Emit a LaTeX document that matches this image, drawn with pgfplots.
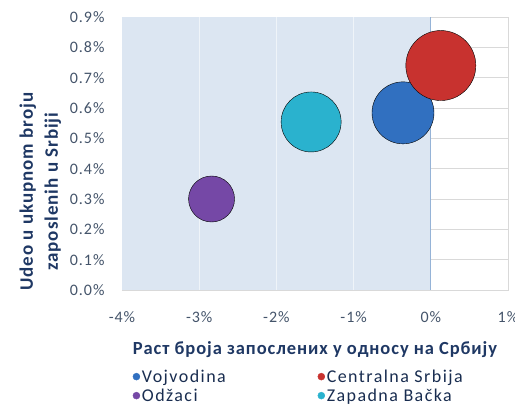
\documentclass[border=0pt]{standalone}
\usepackage{pgfplots}
\pgfplotsset{compat=1.18}
\usepackage{fontspec}
\setmainfont{Carlito}

\definecolor{voj}{HTML}{3170C0}
\definecolor{csr}{HTML}{C8322F}
\definecolor{odz}{HTML}{7548A6}
\definecolor{zba}{HTML}{2AB2CE}
\definecolor{bgblue}{HTML}{DCE6F2}
\definecolor{navy}{HTML}{1F3864}
\definecolor{ticktext}{HTML}{44546A}
\definecolor{gridgray}{HTML}{D9D9D9}
\definecolor{zeroline}{HTML}{95B3D7}

\begin{document}
\begin{tikzpicture}
\useasboundingbox (0,0) rectangle (515pt,409pt);
\begin{axis}[
  at={(122pt,119pt)}, anchor=south west,
  scale only axis,
  width=386pt, height=273pt,
  xmin=-4, xmax=1, ymin=0, ymax=0.9,
  xtick={-4,-3,-2,-1,0,1},
  xticklabels={-4\%,-3\%,-2\%,-1\%,0\%,1\%},
  ytick={0,0.1,0.2,0.3,0.4,0.5,0.6,0.7,0.8,0.9},
  yticklabels={0.0\%,0.1\%,0.2\%,0.3\%,0.4\%,0.5\%,0.6\%,0.7\%,0.8\%,0.9\%},
  major tick length=0pt,
  tick label style={font=\fontsize{16}{18}\selectfont\addfontfeature{LetterSpace=6}, text=ticktext},
  yticklabel style={xshift=-14pt},
  xticklabel style={yshift=-18pt},
  grid=major,
  major grid style={gridgray, line width=0.8pt},
  axis line style={gridgray, line width=0.8pt},
  xlabel={Раст броја запослених у односу на Србију},
  xlabel style={font=\bfseries\fontsize{18.5}{20}\selectfont\addfontfeature{LetterSpace=5}, text=navy, yshift=-12pt},
  ylabel={Udeo u ukupnom broju\\zaposlenih u Srbiji},
  ylabel style={font=\bfseries\fontsize{19}{25}\selectfont\addfontfeature{LetterSpace=5}, text=navy, align=center,
    at={(ticklabel cs:0.36)}, anchor=south, yshift=2pt},
  legend columns=2,
  legend cell align=left,
  legend style={at={(0.02,-0.28)}, anchor=north west, draw=none, fill=none,
    font=\fontsize{18}{19}\selectfont\addfontfeature{LetterSpace=8}, text=navy!80!black,
    /tikz/every even column/.append style={column sep=90pt},
    row sep=1pt, inner ysep=1pt},
]
\fill[bgblue] (axis cs:-4,0) rectangle (axis cs:0,0.9);
\draw[white!55!bgblue, line width=0.8pt] (axis cs:-3,0) -- (axis cs:-3,0.9);
\draw[white!55!bgblue, line width=0.8pt] (axis cs:-2,0) -- (axis cs:-2,0.9);
\draw[white!55!bgblue, line width=0.8pt] (axis cs:-1,0) -- (axis cs:-1,0.9);
\draw[zeroline, line width=0.8pt] (axis cs:0,0) -- (axis cs:0,0.9);

\addplot[only marks, mark=*, mark size=23pt, forget plot,
  mark options={draw=none, fill=odz}]
  coordinates {(-2.84,0.30)};
\addplot[only marks, mark=*, mark size=30pt, forget plot,
  mark options={draw=none, fill=zba}]
  coordinates {(-1.55,0.554)};
\addplot[only marks, mark=*, mark size=31pt, forget plot,
  mark options={draw=none, fill=voj}]
  coordinates {(-0.36,0.584)};
\addplot[only marks, mark=*, mark size=35pt, forget plot,
  mark options={draw=none, fill=csr}]
  coordinates {(0.13,0.74)};

\addlegendimage{only marks, mark=*, mark size=3.5pt, voj}
\addlegendentry{Vojvodina}
\addlegendimage{only marks, mark=*, mark size=3.5pt, csr}
\addlegendentry{Centralna Srbija}
\addlegendimage{only marks, mark=*, mark size=3.5pt, odz}
\addlegendentry{Odžaci}
\addlegendimage{only marks, mark=*, mark size=3.5pt, zba}
\addlegendentry{Zapadna Bačka}
\end{axis}
\end{tikzpicture}
\end{document}
